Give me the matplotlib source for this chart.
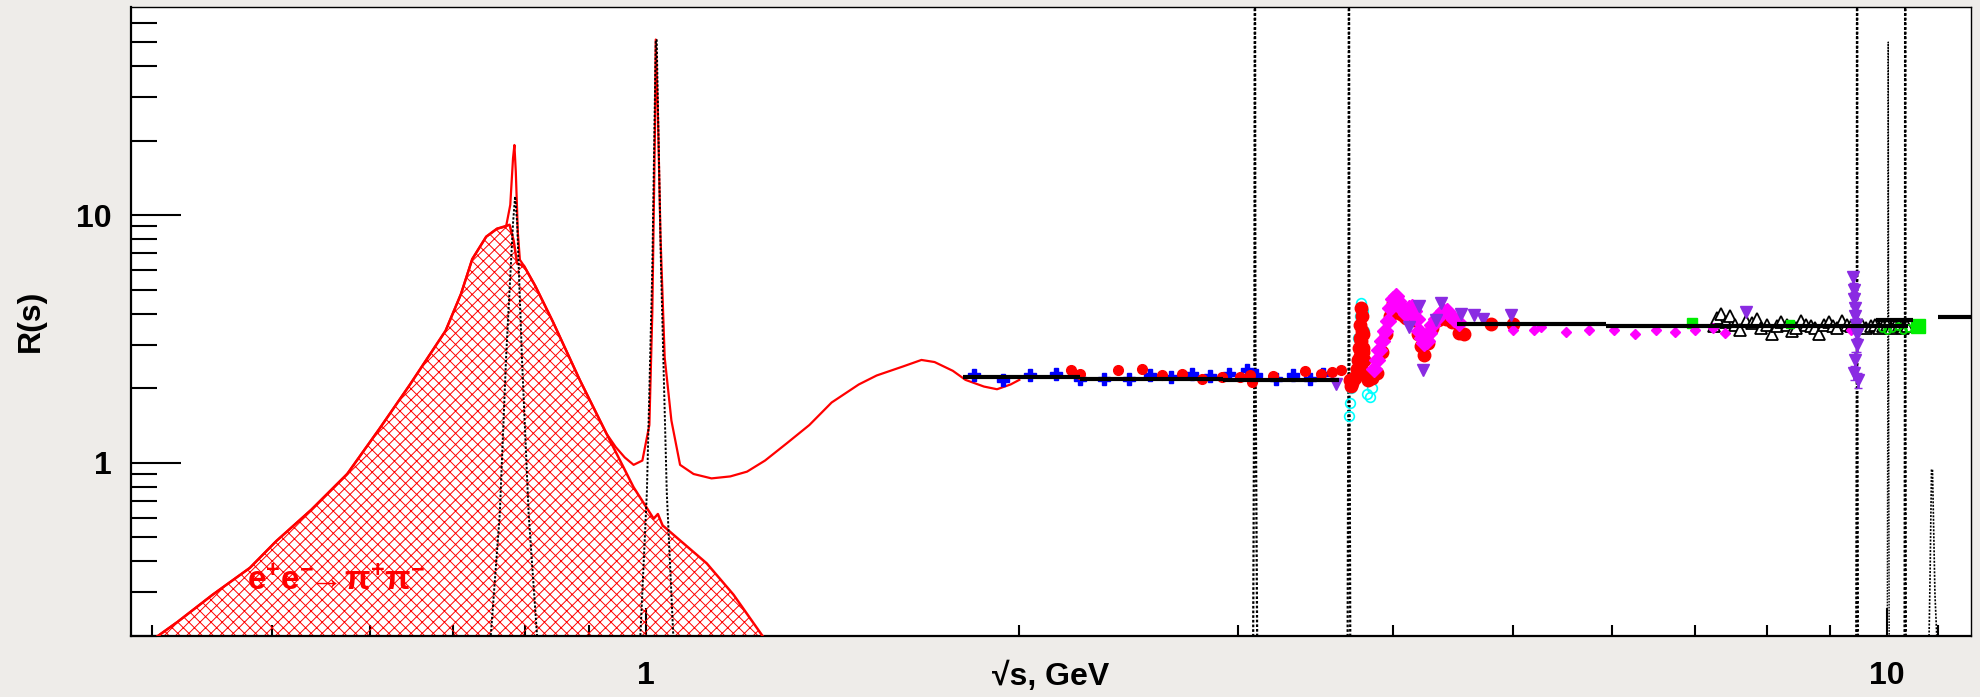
import matplotlib
matplotlib.use("Agg")
import matplotlib.pyplot as plt
from matplotlib.ticker import FixedLocator, NullFormatter, FixedFormatter

plt.rcParams['font.family'] = ['Liberation Sans', 'DejaVu Sans']
plt.rcParams['font.weight'] = 'bold'
plt.rcParams['mathtext.fontset'] = 'custom'
plt.rcParams['mathtext.rm'] = 'Liberation Sans:bold'
plt.rcParams['mathtext.it'] = 'Liberation Sans:bold'
plt.rcParams['mathtext.bf'] = 'Liberation Sans:bold'
plt.rcParams['hatch.linewidth'] = 0.7

# ---------------- data ----------------
# e+e- -> pi+pi- contribution (hatched)
pipi_x = [0.401, 0.420, 0.448, 0.480, 0.504, 0.538, 0.575, 0.610, 0.646, 0.690, 0.710,
          0.725, 0.744, 0.759, 0.777, 0.783, 0.788, 0.798, 0.815, 0.842, 0.885, 0.930,
          0.978, 1.015, 1.023, 1.032, 1.120, 1.177, 1.248]
pipi_y = [0.193, 0.228, 0.293, 0.376, 0.482, 0.646, 0.901, 1.365, 2.07, 3.41, 4.8,
          6.64, 8.18, 8.81, 9.14, 7.85, 6.37, 6.24, 5.17, 3.71, 2.16, 1.31,
          0.795, 0.594, 0.62, 0.558, 0.392, 0.293, 0.193]

# total hadronic R (red line)
tot_x = [0.401, 0.420, 0.448, 0.480, 0.504, 0.538, 0.575, 0.610, 0.646, 0.690, 0.710,
         0.725, 0.744, 0.759, 0.772, 0.778, 0.782, 0.784, 0.786, 0.789, 0.792, 0.798,
         0.815, 0.842, 0.885, 0.930, 0.946, 0.962, 0.978, 0.994, 1.007, 1.0125, 1.0176,
         1.019, 1.0235, 1.028, 1.036, 1.049, 1.066, 1.093, 1.130, 1.170, 1.207, 1.248,
         1.300, 1.355, 1.412, 1.485, 1.535, 1.613, 1.668, 1.709, 1.768, 1.810, 1.873,
         1.919, 1.968, 2.000]
tot_y = [0.193, 0.228, 0.293, 0.376, 0.482, 0.646, 0.901, 1.365, 2.07, 3.41, 4.8,
         6.64, 8.18, 8.81, 9.0, 11.0, 17.0, 19.2, 15.0, 8.5, 6.6, 6.24,
         5.17, 3.71, 2.16, 1.31, 1.157, 1.05, 0.98, 1.02, 1.42, 4.03, 23.1,
         51.2, 23.1, 8.18, 2.66, 1.48, 0.98, 0.90, 0.864, 0.88, 0.92, 1.02,
         1.20, 1.42, 1.75, 2.07, 2.25, 2.45, 2.60, 2.55, 2.35, 2.16, 2.03,
         1.98, 2.07, 2.16]

# narrow resonances (dotted)
omega_x = [0.750, 0.763, 0.772, 0.782, 0.785, 0.788, 0.795, 0.805, 0.818]
omega_y = [0.193, 0.62, 2.66, 9.3, 11.9, 9.3, 2.66, 0.62, 0.193]
phi_x = [0.990, 1.0024, 1.0125, 1.019, 1.0208, 1.029, 1.040, 1.053]
phi_y = [0.193, 0.763, 6.1, 51.0, 51.0, 6.1, 0.763, 0.193]
jpsi_x = [3.086, 3.093, 3.096, 3.099, 3.109]
jpsi_y = [0.19, 3.0, 500.0, 3.0, 0.19]
psi2s_x = [3.677, 3.683, 3.686, 3.689, 3.695]
psi2s_y = [0.19, 3.0, 500.0, 3.0, 0.19]
ups1s_x = [9.445, 9.455, 9.460, 9.465, 9.475]
ups1s_y = [0.19, 3.0, 500.0, 3.0, 0.19]
ups2s_x = [10.005, 10.015, 10.023, 10.030, 10.040]
ups2s_y = [0.19, 3.0, 50.0, 3.0, 0.19]
ups3s_x = [10.33, 10.338, 10.343, 10.348, 10.356]
ups3s_y = [0.19, 3.0, 500.0, 3.0, 0.19]
ups4s_x = [10.81, 10.83, 10.86, 10.88, 10.93, 10.97]
ups4s_y = [0.193, 0.332, 0.939, 0.939, 0.293, 0.193]

# pQCD steps (black)
qcd_y = [2.22, 2.18, 2.15, 3.64, 3.58, 3.78, 3.86]
qcd_x0 = [1.80, 2.24, 2.92, 4.50, 5.94, 9.80, 11.00]
qcd_x1 = [2.24, 2.92, 3.62, 5.94, 10.40, 10.50, 11.69]

# blue crosses
blue_x = [1.84, 1.94, 2.04, 2.14, 2.24, 2.34, 2.45, 2.55, 2.65, 2.755, 2.85, 2.95,
          3.05, 3.10, 3.22, 3.32, 3.43, 3.51]
blue_y = [2.25, 2.15, 2.25, 2.29, 2.18, 2.18, 2.18, 2.25, 2.22, 2.29, 2.23, 2.29,
          2.36, 2.25, 2.18, 2.25, 2.18, 2.29]

# red circles, 2-3.7 GeV
red_x = [2.20, 2.24, 2.40, 2.51, 2.605, 2.705, 2.806, 2.913, 3.013, 3.07, 3.08, 3.20,
         3.40, 3.50, 3.57, 3.63]
red_y = [2.36, 2.29, 2.36, 2.39, 2.25, 2.29, 2.18, 2.21, 2.21, 2.25, 2.11, 2.23,
         2.35, 2.29, 2.32, 2.36]
# red circles, charm region
redc_x = [3.69, 3.70, 3.71, 3.72, 3.73, 3.745, 3.75, 3.755, 3.76, 3.76, 3.765, 3.765,
          3.77, 3.77, 3.77, 3.775, 3.775, 3.78, 3.78, 3.785, 3.79, 3.80, 3.82, 3.85,
          3.88, 3.92, 3.95, 3.98, 4.00, 4.02, 4.04, 4.06, 4.08, 4.10, 4.13, 4.16,
          4.19, 4.21, 4.23, 4.24, 4.27, 4.30, 4.35, 4.41, 4.46, 4.52, 4.56, 4.80,
          5.00]
redc_y = [2.15, 2.05, 2.1, 2.2, 2.2, 2.4, 2.6, 2.9, 3.2, 2.3, 3.6, 2.7,
          4.2, 3.1, 2.5, 3.9, 3.4, 3.3, 2.8, 2.9, 2.6, 2.3, 2.15, 2.2,
          2.3, 2.8, 3.3, 3.9, 4.4, 4.5, 4.3, 4.0, 3.9, 3.85, 3.9, 3.76,
          3.3, 2.95, 3.22, 2.71, 3.03, 3.5, 3.76, 3.8, 3.7, 3.35, 3.32, 3.64,
          3.64]

# cyan open markers
cyan_x = [3.685, 3.69, 3.70, 3.72, 3.74, 3.75, 3.76, 3.77, 3.78, 3.79, 3.80, 3.81,
          3.83, 3.85, 3.87]
cyan_y = [1.55, 1.75, 2.0, 2.2, 2.6, 3.2, 3.9, 4.4, 4.1, 3.4, 2.6, 1.9,
          1.85, 2.0, 2.3]

# magenta diamonds
mag_x = [3.86, 3.88, 3.90, 3.92, 3.94, 3.96, 3.98, 4.00, 4.02, 4.04, 4.06, 4.08,
         4.10, 4.12, 4.14, 4.16, 4.18, 4.20, 4.22, 4.24, 4.26, 4.28, 4.30, 4.33,
         4.36, 4.39, 4.42, 4.45, 4.48, 4.52]
mag_y = [2.4, 2.6, 2.85, 3.1, 3.4, 3.75, 4.2, 4.6, 4.7, 4.5, 4.3, 4.1,
         4.0, 4.2, 4.25, 4.1, 3.8, 3.4, 3.2, 3.05, 3.1, 3.35, 3.6, 3.8,
         3.95, 4.1, 4.1, 3.95, 3.8, 3.65]
mag2_x = [5.00, 5.20, 5.26, 5.51, 5.75, 6.03, 6.27, 6.52, 6.75, 7.00, 7.24, 7.40, 9.35]
mag2_y = [3.42, 3.42, 3.52, 3.37, 3.42, 3.45, 3.32, 3.42, 3.37, 3.42, 3.49, 3.34, 3.42]

# violet down triangles
vio_x = [3.60, 4.12, 4.20, 4.23, 4.33, 4.37, 4.54, 4.65, 4.73, 4.98, 7.70]
vio_y = [2.07, 3.53, 4.3, 2.36, 3.76, 4.4, 4.0, 3.94, 3.81, 3.94, 4.06]
ups_vio_x = [9.38, 9.40, 9.41, 9.42, 9.43, 9.44, 9.45, 9.455, 9.43, 9.41, 9.47]
ups_vio_y = [5.6, 5.0, 4.6, 4.2, 3.9, 3.6, 3.3, 3.0, 2.6, 2.3, 2.15]
ups_vio_err = [0.3, 0.3, 0.3, 0.25, 0.25, 0.25, 0.2, 0.2, 0.2, 0.15, 0.15]

# black open triangles
tri_x = [7.25, 7.30, 7.35, 7.42, 7.48, 7.55, 7.62, 7.70, 7.78, 7.85, 7.92, 8.00,
         8.08, 8.15, 8.22, 8.30, 8.38, 8.45, 8.52, 8.60, 8.68, 8.75, 8.82, 8.90,
         8.98, 9.05, 9.12, 9.20, 9.28, 9.35, 9.55, 9.62, 9.70, 9.78, 9.85, 9.92,
         10.00, 10.08, 10.15, 10.22, 10.30, 10.38]
tri_y = [3.55, 3.85, 4.0, 3.7, 3.9, 3.6, 3.45, 3.75, 3.65, 3.8, 3.5, 3.6,
         3.3, 3.55, 3.7, 3.6, 3.4, 3.5, 3.75, 3.6, 3.55, 3.5, 3.3, 3.6,
         3.7, 3.55, 3.5, 3.75, 3.6, 3.55, 3.6, 3.5, 3.55, 3.6, 3.5, 3.55,
         3.6, 3.5, 3.55, 3.6, 3.5, 3.55]

# green squares
grn_x = [6.97, 8.36, 10.60]
grn_y = [3.68, 3.64, 3.56]
grn_s = [7, 6, 10]
grn_o_x = [9.90, 10.0, 10.1, 10.2, 10.3, 10.4]
grn_o_y = [3.5, 3.45, 3.5, 3.55, 3.45, 3.5]

# axes texts
x_major = [1, 10]
x_major_labels = ['1', '10']
x_minor = [0.4, 0.5, 0.6, 0.7, 0.8, 0.9, 2, 3, 4, 5, 6, 7, 8, 9, 11]
y_major = [1, 10]
y_major_labels = ['1', '10']
y_minor = [0.2, 0.3, 0.4, 0.5, 0.6, 0.7, 0.8, 0.9, 2, 3, 4, 5, 6, 7, 8, 9,
           20, 30, 40, 50, 60]
xlabel = '√s, GeV'
ylabel = 'R(s)'
pipi_label = r'$\mathrm{e^{+}e^{-}\!\!\rightarrow\!\pi^{+}\pi^{-}}$'

# ---------------- figure ----------------
fig = plt.figure(figsize=(19.81, 6.97), dpi=100, facecolor='#eeece9')
ax = fig.add_axes([131/1981, 61.3/697, 1840.2/1981, 629/697])
ax.set_facecolor('white')
ax.set_xscale('log')
ax.set_yscale('log')
ax.set_xlim(0.385, 11.69)
ax.set_ylim(0.2, 69.5)

# hatched pi pi
ax.fill_between(pipi_x, pipi_y, 0.1, facecolor='none', edgecolor='red',
                hatch='xxx', linewidth=0, zorder=2)
ax.plot(pipi_x, pipi_y, color='red', lw=1.8, zorder=3)
# total R
ax.plot(tot_x, tot_y, color='red', lw=1.6, zorder=3)

# resonances
dot = (0, (1.2, 0.9))
for rx, ry, lw in [(omega_x, omega_y, 1.4), (phi_x, phi_y, 1.4),
                   (jpsi_x, jpsi_y, 1.6), (psi2s_x, psi2s_y, 1.6),
                   (ups1s_x, ups1s_y, 1.6), (ups2s_x, ups2s_y, 1.0),
                   (ups3s_x, ups3s_y, 1.6), (ups4s_x, ups4s_y, 1.2)]:
    ax.plot(rx, ry, color='black', lw=lw, linestyle=dot, zorder=4)

# data points
ax.plot(cyan_x, cyan_y, linestyle='none', marker='o', ms=7, mfc='none',
        mec='cyan', mew=1.2, zorder=5)
ax.plot(blue_x, blue_y, linestyle='none', marker='P', ms=9, color='blue',
        mec='blue', zorder=6)
ax.plot(red_x, red_y, linestyle='none', marker='o', ms=7, color='red',
        mec='red', zorder=7)
ax.plot(mag_x, mag_y, linestyle='none', marker='D', ms=8, color='magenta',
        mec='magenta', zorder=8)
ax.plot(redc_x, redc_y, linestyle='none', marker='o', ms=9, color='red',
        mec='red', zorder=7)
ax.plot(mag2_x, mag2_y, linestyle='none', marker='D', ms=5.5, color='magenta',
        mec='magenta', zorder=8)
ax.plot(vio_x, vio_y, linestyle='none', marker='v', ms=9, color='#8a2be2',
        mec='#8a2be2', zorder=8)
ax.errorbar(ups_vio_x, ups_vio_y, yerr=ups_vio_err, fmt='v', ms=8,
            color='#8a2be2', mec='#8a2be2', elinewidth=2, capsize=3, zorder=8)
ax.plot(tri_x, tri_y, linestyle='none', marker='^', ms=8, mfc='white',
        mec='black', mew=1.3, zorder=6)
ax.plot(grn_o_x, grn_o_y, linestyle='none', marker='o', ms=5, mfc='none',
        mec='#00dd00', mew=1.3, zorder=7)
for gx, gy, gs in zip(grn_x, grn_y, grn_s):
    ax.plot([gx], [gy], linestyle='none', marker='s', ms=gs, color='#00ee00',
            mec='#00ee00', zorder=7)

# pQCD
ax.hlines(qcd_y, qcd_x0, qcd_x1, colors='black', lw=3, zorder=9)

# label
ax.text(0.477, 0.33, pipi_label, color='red', fontsize=24, ha='left',
        va='center', zorder=10)

# axes styling
for s in ['left', 'bottom']:
    ax.spines[s].set_linewidth(1.6)
for s in ['top', 'right']:
    ax.spines[s].set_linewidth(1.0)

ax.xaxis.set_major_locator(FixedLocator(x_major))
ax.xaxis.set_major_formatter(FixedFormatter(x_major_labels))
ax.xaxis.set_minor_locator(FixedLocator(x_minor))
ax.xaxis.set_minor_formatter(NullFormatter())
ax.yaxis.set_major_locator(FixedLocator(y_major))
ax.yaxis.set_major_formatter(FixedFormatter(y_major_labels))
ax.yaxis.set_minor_locator(FixedLocator(y_minor))
ax.yaxis.set_minor_formatter(NullFormatter())

ax.tick_params(axis='x', which='major', direction='in', length=20, width=1.5,
               labelsize=23, pad=18, top=False)
ax.tick_params(axis='x', which='minor', direction='in', length=8, width=1.5,
               top=False)
ax.tick_params(axis='y', which='major', direction='in', length=36, width=1.5,
               labelsize=23, pad=14, right=False)
ax.tick_params(axis='y', which='minor', direction='in', length=19, width=1.5,
               right=False)
for lbl in ax.get_xticklabels() + ax.get_yticklabels():
    lbl.set_fontweight('bold')

ax.set_xlabel(xlabel, fontsize=23, fontweight='bold')
ax.xaxis.set_label_coords(0.5, -0.042)
ax.set_ylabel(ylabel, fontsize=23, fontweight='bold')
ax.yaxis.set_label_coords(-0.046, 0.5)

fig.savefig('out.png', dpi=100, facecolor=fig.get_facecolor())
